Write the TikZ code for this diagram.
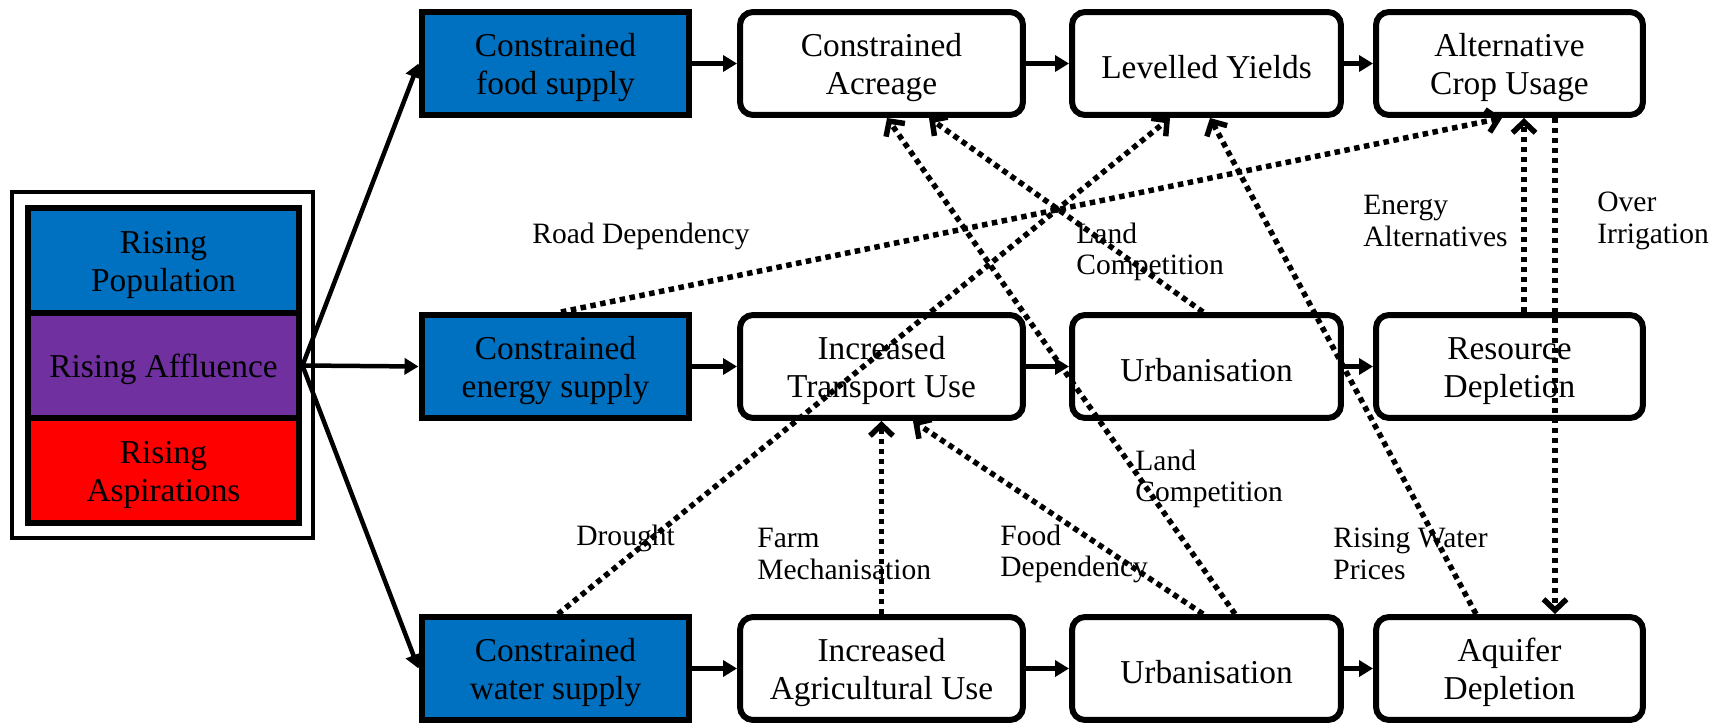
\documentclass[tikz,border=0pt]{standalone}
\usepackage{fontspec}
\setmainfont{Liberation Serif}
\usetikzlibrary{arrows.meta,calc}
\definecolor{supplyblue}{HTML}{0070C0}
\definecolor{affpurple}{HTML}{7030A0}
\definecolor{aspred}{HTML}{FF0000}

\tikzset{
  boxtext/.style={font=\fontsize{19}{21.5}\selectfont, align=center, text=black,
    execute at begin node={\rule{0pt}{17.5pt}}},
  twoline/.style={execute at begin node={\rule{0pt}{39pt}}},
  supply/.style={boxtext, twoline, draw, line width=0.12cm, fill=supplyblue,
    minimum width=5.36cm, minimum height=2.06cm, inner sep=0pt},
  effect/.style={boxtext, draw, line width=0.12cm, rounded corners=0.26cm,
    fill=white, minimum height=2.06cm, inner sep=0pt},
  legblock/.style={boxtext, draw, line width=0.12cm,
    minimum width=5.44cm, minimum height=2.1cm, inner sep=0pt},
  flow/.style={line width=0.09cm, -{Triangle[length=0.28cm,width=0.32cm]}},
  link/.style={line width=0.11cm, dash pattern=on 0.11cm off 0.09cm,
    -{Straight Barb[length=0.22cm,width=0.46cm]}},
  lbl/.style={font=\fontsize{16.8}{17.8}\selectfont, align=left,
    anchor=west, inner sep=0pt},
}

\begin{document}
\begin{tikzpicture}[x=0.02cm, y=-0.02cm]
\useasboundingbox (0,0) rectangle (1718,723);

% drivers
\node[draw, line width=0.09cm, minimum width=6.02cm, minimum height=6.92cm,
  inner sep=0pt] (legend) at (162.5,365) {};
\node[legblock, twoline, fill=supplyblue] (pop) at (163.5,260.5) {Rising\\Population};
\node[legblock, fill=affpurple] (aff) at (163.5,365.5) {Rising Affluence};
\node[legblock, twoline, fill=aspred] (asp) at (163.5,470.5) {Rising\\Aspirations};

% constrained supplies
\node[supply] (food) at (555.5,63.5) {Constrained\\food supply};
\node[supply] (energy) at (555.5,366.5) {Constrained\\energy supply};
\node[supply] (water) at (555.5,668.5) {Constrained\\water supply};

% consequences
\node[effect, twoline, minimum width=5.66cm] (acre) at (881.5,63.5) {Constrained\\Acreage};
\node[effect, twoline, minimum width=5.66cm] (trans) at (881.5,366.5) {Increased\\Transport Use};
\node[effect, twoline, minimum width=5.66cm] (agri) at (881.5,668.5) {Increased\\Agricultural Use};

\node[effect, minimum width=5.38cm] (yields) at (1206.5,63.5) {Levelled Yields};
\node[effect, minimum width=5.38cm] (urbmid) at (1206.5,366.5) {Urbanisation};
\node[effect, minimum width=5.38cm] (urblow) at (1206.5,668.5) {Urbanisation};

\node[effect, twoline, minimum width=5.34cm] (crop) at (1509.5,63.5) {Alternative\\Crop Usage};
\node[effect, twoline, minimum width=5.34cm] (resource) at (1509.5,366.5) {Resource\\Depletion};
\node[effect, twoline, minimum width=5.34cm] (aquifer) at (1509.5,668.5) {Aquifer\\Depletion};

% main chains
\draw[flow] (aff.east) -- (food.west);
\draw[flow] (aff.east) -- (energy.west);
\draw[flow] (aff.east) -- (water.west);
\draw[flow] (food.east) -- (acre.west);
\draw[flow] (acre.east) -- (yields.west);
\draw[flow] (yields.east) -- (crop.west);
\draw[flow] (energy.east) -- (trans.west);
\draw[flow] (trans.east) -- (urbmid.west);
\draw[flow] (urbmid.east) -- (resource.west);
\draw[flow] (water.east) -- (agri.west);
\draw[flow] (agri.east) -- (urblow.west);
\draw[flow] (urblow.east) -- (aquifer.west);

% labels of the cross links
\node[lbl] (roadlbl) at (532,236) {Road Dependency};
\node[lbl] (landuplbl) at (1076,252) {Land\\Competition};
\node[lbl] (altlbl) at (1363,221) {Energy\\Alternatives};
\node[lbl] (irrlbl) at (1597,221) {Over\\Irrigation};
\node[lbl] (droughtlbl) at (576,538) {Drought};
\node[lbl] (farmlbl) at (757,554) {Farm\\Mechanisation};
\node[lbl] (fooddeplbl) at (1000,554) {Food\\Dependency};
\node[lbl] (landlowlbl) at (1135,479) {Land\\Competition};
\node[lbl] (pricelbl) at (1333,554) {Rising Water\\Prices};

% cross links
\draw[link] ($(energy.north)+(5.5,0)$) -- ($(crop.south)+(-7.5,0)$);
\draw[link] ($(water.north)+(2.5,0)$) -- ($(yields.south)+(-36.5,0)$);
\draw[link] ($(urblow.north)+(28.5,0)$) -- ($(acre.south)+(5.5,0)$);
\draw[link] ($(urbmid.north)+(-3.5,0)$) -- ($(acre.south)+(47.5,0)$);
\draw[link] (agri.north) -- (trans.south);
\draw[link] ($(urblow.north)+(-3.5,0)$) -- ($(trans.south)+(31.5,0)$);
\draw[link] ($(aquifer.north)+(-33.5,0)$) -- ($(yields.south)+(3.5,0)$);
\draw[link] ($(resource.north)+(14.5,0)$) -- ($(crop.south)+(14.5,0)$);
\draw[link] ($(crop.south)+(45.5,0)$) -- ($(aquifer.north)+(45.5,0)$);
\end{tikzpicture}
\end{document}
